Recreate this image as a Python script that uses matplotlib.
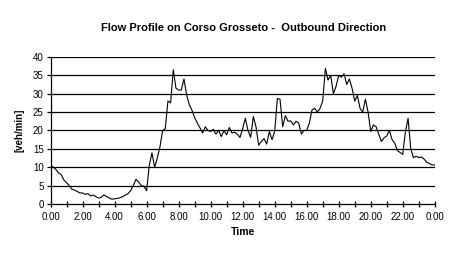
from matplotlib import pyplot as plt
import matplotlib

# flow sampled every 10 minutes, 0:00 -> 24:00 (one row per hour)
flow = [
    10.6, 10.0, 9.4, 8.4, 8.0, 6.5,
    5.8, 5.0, 4.0, 3.8, 3.4, 3.0,
    3.0, 2.6, 2.8, 2.2, 2.4, 2.0,
    1.6, 1.8, 2.5, 2.0, 1.6, 1.3,
    1.4, 1.5, 1.7, 2.0, 2.4, 2.8,
    3.6, 5.0, 6.7, 6.0, 5.0, 4.8,
    3.6, 10.5, 13.9, 10.0, 12.5, 15.5,
    20.0, 20.5, 28.0, 27.5, 36.5, 31.5,
    31.0, 31.0, 34.0, 29.7, 27.0, 25.5,
    23.5, 22.0, 20.7, 19.3, 21.0, 20.0,
    19.7, 20.3, 19.0, 20.0, 18.3, 20.0,
    18.8, 20.8, 19.3, 19.5, 19.0, 18.1,
    20.5, 23.3, 20.0, 18.1, 23.8, 21.0,
    16.0, 17.0, 17.8, 16.3, 19.7, 17.5,
    19.7, 28.7, 28.5, 21.0, 24.0, 22.5,
    22.6, 21.5, 22.5, 22.0, 19.0, 20.0,
    20.0, 22.0, 25.6, 26.0, 25.0, 26.0,
    28.0, 36.9, 33.7, 35.0, 30.0, 32.0,
    35.0, 34.5, 35.4, 32.5, 34.0, 31.5,
    28.0, 29.5, 26.0, 25.0, 28.5, 25.0,
    19.7, 21.5, 21.0, 19.0, 17.0, 18.0,
    18.5, 20.0, 17.5, 16.5, 14.5, 14.0,
    13.5, 19.7, 23.3, 15.0, 12.6, 13.0,
    12.6, 12.8, 12.2, 11.3, 11.0, 10.6,
    10.6,
]
hours = [i / 6 for i in range(len(flow))]
tick_labels = ["0.00", "2.00", "4.00", "6.00", "8.00", "10.00", "12.00",
               "14.00", "16.00", "18.00", "20.00", "22.00", "0.00"]

matplotlib.rc("font", family="Liberation Sans", size=7)

fig = plt.figure(figsize=(4.68, 2.54), dpi=100)
ax = fig.add_axes([0.108, 0.197, 0.821, 0.579])

# horizontal grid lines
for v in range(5, 45, 5):
    ax.axhline(v, color="black", linewidth=0.9, zorder=1)

ax.plot(hours, flow, color="black", linewidth=0.8, zorder=2)

ax.set_xlim(0, 24)
ax.set_ylim(0, 40)
ax.set_xticks(range(0, 25, 2))
ax.set_xticklabels(tick_labels)
ax.set_xticks(range(0, 25), minor=True)
ax.set_yticks(range(0, 45, 5))

for s in ["top", "right"]:
    ax.spines[s].set_visible(False)
for s in ["left", "bottom"]:
    ax.spines[s].set_linewidth(0.9)

ax.tick_params(axis="x", which="both", direction="inout", length=5, width=0.9, pad=3)
ax.tick_params(axis="y", direction="out", length=3, width=0.9, pad=2)

ax.set_xlabel("Time", fontweight="bold", fontsize=7.5, labelpad=4)
ax.set_ylabel("[veh/min]", fontweight="bold", fontsize=7, labelpad=6)
fig.suptitle("Flow Profile on Corso Grosseto -  Outbound Direction",
             fontweight="bold", fontsize=8, x=0.52, y=0.91)

plt.savefig("out.png", dpi=100)
